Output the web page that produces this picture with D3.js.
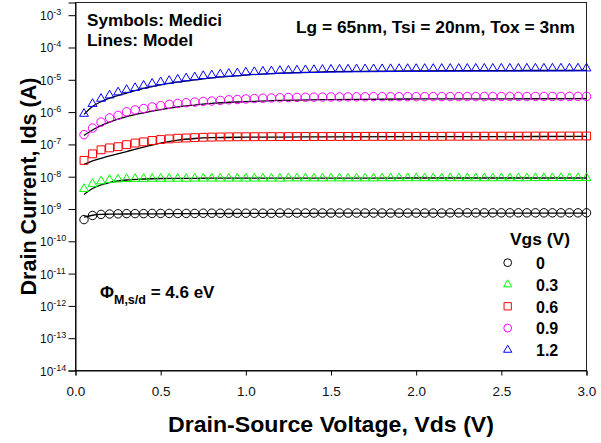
<!DOCTYPE html>
<html>
<head>
<meta charset="utf-8">
<script src="https://cdn.jsdelivr.net/npm/d3@7"></script>
<style>
body { margin: 0; background: #fff; }
svg { font-family: "Liberation Sans", Arial, sans-serif; }
</style>
</head>
<body>
<div id="canvas"></div>
<script>
"use strict"

let drawingWidth = 601;
let drawingHeight = 443;

/* Data: Medici symbols (Vds sweep) and model lines, one array per Vgs */
let vgsLabels = ["0", "0.3", "0.6", "0.9", "1.2"];

let vds = [0.05, 0.10, 0.15, 0.20, 0.25, 0.30, 0.35, 0.40, 0.45, 0.50,
           0.55, 0.60, 0.65, 0.70, 0.75, 0.80, 0.85, 0.90, 0.95, 1.00,
           1.05, 1.10, 1.15, 1.20, 1.25, 1.30, 1.35, 1.40, 1.45, 1.50,
           1.55, 1.60, 1.65, 1.70, 1.75, 1.80, 1.85, 1.90, 1.95, 2.00,
           2.05, 2.10, 2.15, 2.20, 2.25, 2.30, 2.35, 2.40, 2.45, 2.50,
           2.55, 2.60, 2.65, 2.70, 2.75, 2.80, 2.85, 2.90, 2.95, 3.00];

let ids00 = [4.7e-10, 6.3e-10, 6.8e-10, 7.0e-10, 7.1e-10, 7.2e-10, 7.2e-10, 7.2e-10, 7.3e-10, 7.3e-10,
             7.3e-10, 7.3e-10, 7.3e-10, 7.3e-10, 7.4e-10, 7.4e-10, 7.4e-10, 7.4e-10, 7.4e-10, 7.4e-10,
             7.4e-10, 7.4e-10, 7.4e-10, 7.5e-10, 7.5e-10, 7.5e-10, 7.5e-10, 7.5e-10, 7.5e-10, 7.5e-10,
             7.5e-10, 7.5e-10, 7.5e-10, 7.5e-10, 7.5e-10, 7.5e-10, 7.5e-10, 7.5e-10, 7.5e-10, 7.5e-10,
             7.5e-10, 7.5e-10, 7.5e-10, 7.6e-10, 7.6e-10, 7.6e-10, 7.6e-10, 7.6e-10, 7.6e-10, 7.6e-10,
             7.6e-10, 7.6e-10, 7.6e-10, 7.6e-10, 7.6e-10, 7.6e-10, 7.6e-10, 7.6e-10, 7.6e-10, 7.6e-10];

let ids03 = [4.2e-9, 6.0e-9, 7.2e-9, 8.0e-9, 8.3e-9, 8.5e-9, 8.6e-9, 8.6e-9, 8.7e-9, 8.7e-9,
             8.7e-9, 8.7e-9, 8.7e-9, 8.8e-9, 8.8e-9, 8.8e-9, 8.8e-9, 8.8e-9, 8.8e-9, 8.8e-9,
             8.8e-9, 8.8e-9, 8.8e-9, 8.8e-9, 8.9e-9, 8.9e-9, 8.9e-9, 8.9e-9, 8.9e-9, 8.9e-9,
             8.9e-9, 8.9e-9, 8.9e-9, 8.9e-9, 8.9e-9, 9.0e-9, 9.0e-9, 9.0e-9, 9.0e-9, 9.0e-9,
             9.0e-9, 9.0e-9, 9.0e-9, 9.0e-9, 9.0e-9, 9.0e-9, 9.0e-9, 9.0e-9, 9.0e-9, 9.0e-9,
             9.0e-9, 9.0e-9, 9.0e-9, 9.1e-9, 9.1e-9, 9.1e-9, 9.1e-9, 9.1e-9, 9.1e-9, 9.1e-9];

let ids06 = [3.2e-8, 5.1e-8, 6.8e-8, 7.8e-8, 8.5e-8, 9.8e-8, 1.10e-7, 1.20e-7, 1.32e-7, 1.41e-7,
             1.48e-7, 1.55e-7, 1.58e-7, 1.62e-7, 1.66e-7, 1.68e-7, 1.70e-7, 1.71e-7, 1.72e-7, 1.72e-7,
             1.73e-7, 1.73e-7, 1.74e-7, 1.74e-7, 1.74e-7, 1.75e-7, 1.75e-7, 1.75e-7, 1.75e-7, 1.76e-7,
             1.76e-7, 1.76e-7, 1.76e-7, 1.77e-7, 1.77e-7, 1.77e-7, 1.77e-7, 1.77e-7, 1.78e-7, 1.78e-7,
             1.78e-7, 1.78e-7, 1.78e-7, 1.79e-7, 1.79e-7, 1.79e-7, 1.79e-7, 1.79e-7, 1.80e-7, 1.80e-7,
             1.80e-7, 1.80e-7, 1.80e-7, 1.81e-7, 1.81e-7, 1.81e-7, 1.81e-7, 1.82e-7, 1.82e-7, 1.82e-7];

let ids09 = [2.0e-7, 3.2e-7, 4.9e-7, 6.6e-7, 7.9e-7, 1.02e-6, 1.17e-6, 1.29e-6, 1.45e-6, 1.58e-6,
             1.74e-6, 1.86e-6, 1.95e-6, 2.04e-6, 2.14e-6, 2.20e-6, 2.30e-6, 2.40e-6, 2.45e-6, 2.55e-6,
             2.62e-6, 2.68e-6, 2.73e-6, 2.78e-6, 2.82e-6, 2.85e-6, 2.88e-6, 2.90e-6, 2.92e-6, 2.94e-6,
             2.95e-6, 2.96e-6, 2.97e-6, 2.98e-6, 2.99e-6, 3.00e-6, 3.00e-6, 3.00e-6, 3.01e-6, 3.01e-6,
             3.01e-6, 3.02e-6, 3.02e-6, 3.02e-6, 3.02e-6, 3.03e-6, 3.03e-6, 3.03e-6, 3.03e-6, 3.04e-6,
             3.04e-6, 3.04e-6, 3.04e-6, 3.05e-6, 3.05e-6, 3.05e-6, 3.05e-6, 3.05e-6, 3.06e-6, 3.06e-6];

let ids12 = [8.9e-7, 1.8e-6, 2.6e-6, 3.3e-6, 4.1e-6, 4.9e-6, 5.6e-6, 6.6e-6, 7.6e-6, 8.5e-6,
             9.3e-6, 1.02e-5, 1.12e-5, 1.20e-5, 1.32e-5, 1.38e-5, 1.48e-5, 1.55e-5, 1.60e-5, 1.70e-5,
             1.75e-5, 1.80e-5, 1.85e-5, 1.90e-5, 1.93e-5, 1.96e-5, 2.00e-5, 2.02e-5, 2.05e-5, 2.07e-5,
             2.09e-5, 2.10e-5, 2.12e-5, 2.13e-5, 2.14e-5, 2.15e-5, 2.16e-5, 2.17e-5, 2.18e-5, 2.18e-5,
             2.19e-5, 2.19e-5, 2.20e-5, 2.20e-5, 2.21e-5, 2.21e-5, 2.22e-5, 2.22e-5, 2.22e-5, 2.23e-5,
             2.23e-5, 2.23e-5, 2.24e-5, 2.24e-5, 2.24e-5, 2.25e-5, 2.25e-5, 2.25e-5, 2.26e-5, 2.26e-5];

// model curves
let vdsModel = [0.05, 0.1, 0.15, 0.2, 0.3, 0.4, 0.5, 0.6, 0.7, 0.8, 1.0, 1.2, 1.5, 2.0, 2.5, 3.0];
let model00 = [5.6e-10, 6.4e-10, 6.8e-10, 6.9e-10, 7.0e-10, 7.1e-10, 7.1e-10, 7.2e-10, 7.2e-10, 7.2e-10, 7.3e-10, 7.3e-10, 7.4e-10, 7.4e-10, 7.5e-10, 7.5e-10];
let model03 = [2.8e-9, 4.3e-9, 5.6e-9, 6.6e-9, 7.9e-9, 8.5e-9, 8.8e-9, 8.9e-9, 8.9e-9, 9.0e-9, 9.0e-9, 9.0e-9, 9.0e-9, 9.1e-9, 9.1e-9, 9.1e-9];
let model06 = [2.4e-8, 3.1e-8, 3.7e-8, 4.4e-8, 6.0e-8, 8.3e-8, 1.1e-7, 1.36e-7, 1.52e-7, 1.61e-7, 1.67e-7, 1.69e-7, 1.71e-7, 1.73e-7, 1.75e-7, 1.76e-7];
let model09 = [1.9e-7, 2.8e-7, 3.8e-7, 4.9e-7, 7.2e-7, 9.5e-7, 1.2e-6, 1.45e-6, 1.65e-6, 1.85e-6, 2.1e-6, 2.3e-6, 2.45e-6, 2.55e-6, 2.58e-6, 2.6e-6];
let model12 = [8.5e-7, 1.5e-6, 2.1e-6, 2.7e-6, 3.9e-6, 5.4e-6, 7.0e-6, 8.5e-6, 1.0e-5, 1.15e-5, 1.4e-5, 1.6e-5, 1.8e-5, 1.9e-5, 1.93e-5, 1.95e-5];

let xTicks = [0, 0.5, 1.0, 1.5, 2.0, 2.5, 3.0];
let yTickExp = [-14, -13, -12, -11, -10, -9, -8, -7, -6, -5, -4, -3];

let symbolData = [ids00, ids03, ids06, ids09, ids12];
let modelData = [model00, model03, model06, model09, model12];

/* styles */
let colors = ["#000000", "#00ff00", "#ff0000", "#ff00ff", "#0000ff"];
let shapes = [d3.symbolCircle, d3.symbolTriangle, d3.symbolSquare, d3.symbolCircle, d3.symbolTriangle];
let shapeSizes = [56, 34, 62, 56, 34];

let plotLeft = 75.5, plotRight = 586.5, plotTop = 2.5, plotBottom = 370.5;

let drawing = d3.select("#canvas")
    .append("svg")
    .attr("width", drawingWidth)
    .attr("height", drawingHeight);

drawing.append("rect")
    .attr("width", drawingWidth)
    .attr("height", drawingHeight)
    .attr("fill", "white");

let x = d3.scaleLinear().domain([0, 3]).range([plotLeft, plotRight]);
let y = d3.scaleLog().domain([1e-14, Math.pow(10, -2.607)]).range([plotBottom, plotTop]);

// frame
drawing.append("rect")
    .attr("x", plotLeft)
    .attr("y", plotTop)
    .attr("width", plotRight - plotLeft)
    .attr("height", plotBottom - plotTop)
    .attr("fill", "none")
    .attr("stroke", "#222")
    .attr("stroke-width", 1);

// x axis
let xAxis = drawing.append("g")
    .attr("transform", `translate(0,${plotBottom})`)
    .call(d3.axisBottom(x).tickValues(xTicks).tickSize(5).tickPadding(11).tickFormat(d3.format(".1f")));
xAxis.attr("font-family", null).attr("font-size", 13.5);
xAxis.select(".domain").attr("stroke", "#000");
xAxis.selectAll("text").attr("fill", "#111");

// y axis
let yAxis = drawing.append("g")
    .attr("transform", `translate(${plotLeft},0)`)
    .call(d3.axisLeft(y).tickValues(yTickExp.map(e => Math.pow(10, e))).tickSize(7).tickFormat(""));
yAxis.select(".domain").attr("stroke", "#000");

drawing.selectAll(".ylab")
    .data(yTickExp)
    .join("text")
    .attr("class", "ylab")
    .attr("x", 40)
    .attr("y", d => y(Math.pow(10, d)) + 5)
    .attr("font-size", 12)
    .attr("fill", "#111")
    .call(t => {
        t.append("tspan").text("10");
        t.append("tspan").attr("dy", -5).attr("font-size", 9).text(d => d);
    });

// model lines
let modelLine = d3.line()
    .x((d, i) => x(vdsModel[i]))
    .y(d => y(d))
    .curve(d3.curveMonotoneX);

drawing.selectAll(".model")
    .data(modelData)
    .join("path")
    .attr("class", "model")
    .attr("d", d => modelLine(d))
    .attr("fill", "none")
    .attr("stroke", "#000")
    .attr("stroke-width", 1.3);

// Medici symbols
symbolData.forEach((series, k) => {
    let sym = d3.symbol(shapes[k], shapeSizes[k]);
    drawing.append("g")
        .selectAll("path")
        .data(series)
        .join("path")
        .attr("transform", (d, i) => `translate(${x(vds[i])},${y(d)})`)
        .attr("d", sym)
        .attr("fill", "none")
        .attr("stroke", colors[k])
        .attr("stroke-width", 1);
});

// legend
drawing.append("text")
    .attr("x", 510)
    .attr("y", 245)
    .attr("font-size", 16)
    .attr("font-weight", "bold")
    .attr("textLength", 60)
    .attr("lengthAdjust", "spacingAndGlyphs")
    .text("Vgs (V)");

let legendRows = drawing.selectAll(".leg")
    .data(vgsLabels)
    .join("g")
    .attr("class", "leg")
    .attr("transform", (d, i) => `translate(0,${262.7 + i * 21.8})`);

legendRows.append("path")
    .attr("transform", "translate(507.7,0)")
    .attr("d", (d, i) => d3.symbol(shapes[i], shapeSizes[i] * 0.85)())
    .attr("fill", "none")
    .attr("stroke", (d, i) => colors[i])
    .attr("stroke-width", 1);

legendRows.append("text")
    .attr("x", 536)
    .attr("y", 6.3)
    .attr("font-size", 16)
    .attr("font-weight", "bold")
    .text(d => d);

// annotations
drawing.append("text")
    .attr("x", 87).attr("y", 26)
    .attr("font-size", 16).attr("font-weight", "bold")
    .attr("textLength", 135).attr("lengthAdjust", "spacingAndGlyphs")
    .text("Symbols: Medici");

drawing.append("text")
    .attr("x", 87).attr("y", 45.5)
    .attr("font-size", 16).attr("font-weight", "bold")
    .attr("textLength", 106).attr("lengthAdjust", "spacingAndGlyphs")
    .text("Lines: Model");

drawing.append("text")
    .attr("x", 296).attr("y", 33)
    .attr("font-size", 16).attr("font-weight", "bold")
    .attr("textLength", 279).attr("lengthAdjust", "spacingAndGlyphs")
    .text("Lg = 65nm, Tsi = 20nm, Tox = 3nm");

let phi = drawing.append("text")
    .attr("x", 100).attr("y", 298)
    .attr("font-size", 17).attr("font-weight", "bold");
phi.append("tspan").text("\u03A6");
phi.append("tspan").attr("font-size", 12.5).attr("dy", 6).text("M,s/d");
phi.append("tspan").attr("dy", -6).text(" = 4.6 eV");

// axis titles
drawing.append("text")
    .attr("x", (plotLeft + plotRight) / 2)
    .attr("y", 432)
    .attr("text-anchor", "middle")
    .attr("font-size", 22).attr("font-weight", "bold")
    .attr("textLength", 326).attr("lengthAdjust", "spacingAndGlyphs")
    .text("Drain-Source Voltage, Vds (V)");

drawing.append("text")
    .attr("transform", `translate(36,${(plotTop + plotBottom) / 2}) rotate(-90)`)
    .attr("text-anchor", "middle")
    .attr("font-size", 22).attr("font-weight", "bold")
    .attr("textLength", 218).attr("lengthAdjust", "spacingAndGlyphs")
    .text("Drain Current, Ids (A)");
</script>
</body>
</html>
